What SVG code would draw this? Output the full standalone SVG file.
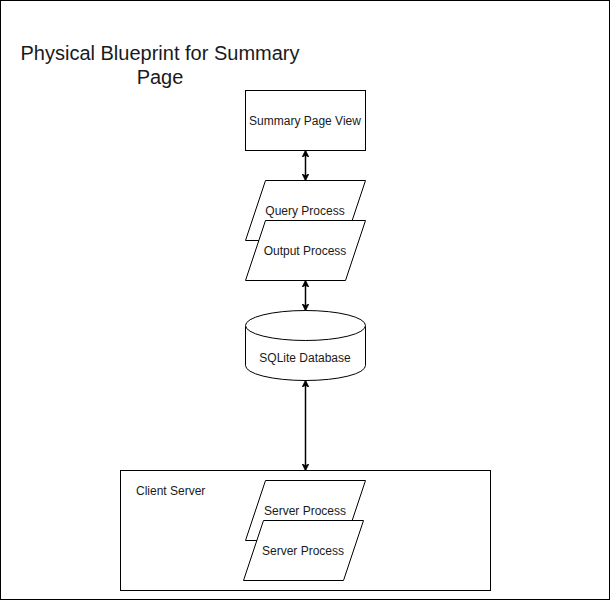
<svg xmlns="http://www.w3.org/2000/svg" width="611" height="601" viewBox="0 0 611 601">
<defs>
<marker id="arr" viewBox="0 0 10 10" refX="9" refY="5" markerWidth="7" markerHeight="7" markerUnits="userSpaceOnUse" orient="auto-start-reverse">
<path d="M0,0 L10,5 L0,10 L3,5 Z" fill="#000" stroke="#000" stroke-width="1"/>
</marker>
</defs>
<style>
.shape{fill:#fff;stroke:#000;stroke-width:1}
.lbl{font-family:"Liberation Sans",Arial,sans-serif;font-size:12px;fill:#1a1a1a;text-anchor:middle}
.conn{stroke:#000;stroke-width:1.5;fill:none;marker-start:url(#arr);marker-end:url(#arr)}
</style>
<rect x="0.5" y="0.5" width="609" height="599" fill="#fff" stroke="#000" stroke-width="1"/>
<g id="title">
<text x="160" y="60" font-family="Liberation Sans, Arial, sans-serif" font-size="20" fill="#1a1a1a" text-anchor="middle">Physical Blueprint for Summary</text>
<text x="160" y="84" font-family="Liberation Sans, Arial, sans-serif" font-size="20" fill="#1a1a1a" text-anchor="middle">Page</text>
</g>
<g id="summary-page-view">
<rect class="shape" x="245.5" y="90.5" width="120" height="60"/>
<text class="lbl" x="305" y="125">Summary Page View</text>
</g>
<g id="query-process">
<path class="shape" d="M265.5,180.5 H365.5 L345.5,240.5 H245.5 Z"/>
<text class="lbl" x="305" y="215">Query Process</text>
</g>
<g id="output-process">
<path class="shape" d="M265.5,220.5 H365.5 L345.5,280.5 H245.5 Z"/>
<text class="lbl" x="305" y="255">Output Process</text>
</g>
<g id="sqlite-database">
<path class="shape" d="M245.5,325.5 A60,15 0 0 1 365.5,325.5 V365.5 A60,15 0 0 1 245.5,365.5 Z"/>
<path class="shape" fill="none" d="M245.5,325.5 A60,15 0 0 0 365.5,325.5"/>
<text class="lbl" x="305" y="362">SQLite Database</text>
</g>
<g id="client-server">
<rect class="shape" x="120.5" y="470.5" width="370" height="120"/>
<text class="lbl" x="136" y="495" style="text-anchor:start">Client Server</text>
</g>
<g id="server-process-1">
<path class="shape" d="M265.5,480.5 H365.5 L345.5,540.5 H245.5 Z"/>
<text class="lbl" x="305" y="515">Server Process</text>
</g>
<g id="server-process-2">
<path class="shape" d="M263.5,520.5 H363.5 L343.5,580.5 H243.5 Z"/>
<text class="lbl" x="303" y="555">Server Process</text>
</g>
<g id="connectors">
<line class="conn" x1="305.5" y1="151" x2="305.5" y2="180"/>
<line class="conn" x1="305.5" y1="281" x2="305.5" y2="310"/>
<line class="conn" x1="305.5" y1="381" x2="305.5" y2="470"/>
</g>
</svg>
